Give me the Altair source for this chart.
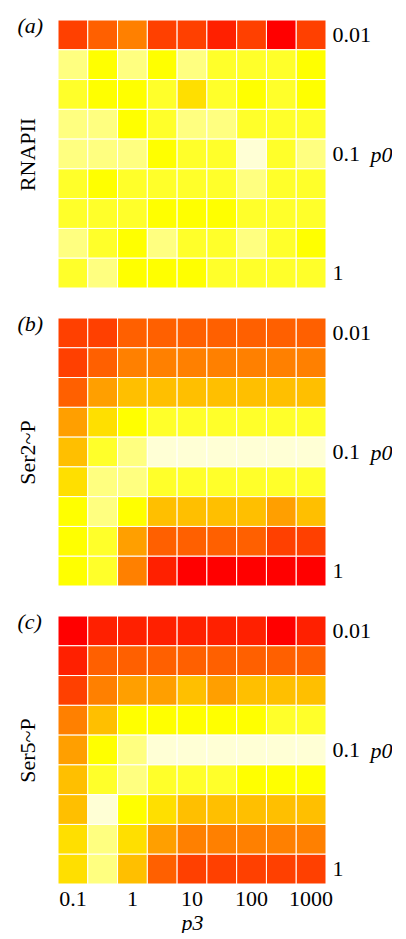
import altair as alt
import pandas as pd

# p3 (columns) and p0 (rows, top to bottom)
p3 = ["0.1", "0.3", "1", "3", "10", "30", "100", "300", "1000"]
p0 = ["0.01", "0.018", "0.032", "0.056", "0.1", "0.18", "0.32", "0.56", "1"]
p3_ticks = ["0.1", "1", "10", "100", "1000"]
p0_ticks = ["0.01", "0.1", "1"]

# heat.colors(12) style palette, level 0 = red ... 11 = near white
heat = ["#FF0000", "#FF2000", "#FF4000", "#FF6000", "#FF8000", "#FF9F00",
        "#FFBF00", "#FFDF00", "#FFFF00", "#FFFF2A", "#FFFF80", "#FFFFD5"]

# colour level of every cell, rows from p0=0.01 down to p0=1
rnapii = [
    [2, 3, 4, 2, 2, 1, 2, 0, 2],
    [10, 8, 10, 8, 10, 9, 9, 9, 8],
    [9, 8, 8, 9, 7, 9, 8, 9, 8],
    [10, 10, 8, 9, 10, 10, 9, 9, 9],
    [10, 10, 10, 8, 9, 9, 11, 9, 10],
    [9, 8, 9, 9, 9, 9, 10, 9, 9],
    [9, 9, 9, 8, 8, 8, 9, 9, 9],
    [10, 9, 8, 10, 9, 9, 10, 9, 8],
    [9, 10, 8, 8, 8, 9, 9, 9, 9],
]
ser2 = [
    [2, 2, 3, 3, 3, 3, 3, 3, 3],
    [2, 3, 4, 4, 4, 4, 4, 4, 4],
    [3, 5, 6, 6, 6, 6, 6, 6, 6],
    [5, 7, 8, 9, 9, 9, 9, 9, 9],
    [6, 9, 10, 11, 11, 11, 11, 11, 11],
    [7, 10, 10, 9, 9, 9, 9, 9, 9],
    [8, 10, 8, 6, 6, 6, 6, 5, 6],
    [8, 9, 5, 3, 3, 3, 3, 2, 2],
    [8, 9, 4, 1, 0, 0, 0, 0, 0],
]
ser5 = [
    [0, 1, 1, 1, 1, 1, 1, 0, 1],
    [1, 3, 3, 3, 3, 3, 3, 3, 3],
    [2, 4, 5, 5, 6, 5, 6, 6, 6],
    [4, 6, 8, 8, 8, 8, 8, 9, 9],
    [5, 8, 10, 11, 11, 11, 11, 11, 11],
    [6, 9, 10, 9, 9, 9, 8, 8, 8],
    [6, 11, 8, 7, 6, 6, 6, 6, 6],
    [7, 10, 7, 5, 4, 4, 4, 4, 4],
    [7, 10, 6, 3, 2, 2, 2, 2, 2],
]

FONT = "Liberation Serif"
SIZE = 268


def panel(grid, letter, name, last):
    rows = []
    for i, r in enumerate(grid):
        for j, v in enumerate(r):
            rows.append({"p3": p3[j], "p0": p0[i], "lvl": v})
    df = pd.DataFrame(rows)

    xscale = alt.Scale(paddingInner=0, paddingOuter=0)
    yscale = alt.Scale(paddingInner=0, paddingOuter=0)
    color = alt.Color("lvl:O", scale=alt.Scale(domain=list(range(12)), range=heat),
                      legend=None)

    # top axis only carries the panel letter, left axis the panel name
    left = alt.Chart(df).mark_rect(stroke="white", strokeWidth=1).encode(
        x=alt.X("p3:O", sort=p3, scale=xscale,
                axis=alt.Axis(orient="top", labels=False, ticks=False,
                              domain=False, title=letter,
                              titleFontStyle="italic", titleAlign="left",
                              titleBaseline="alphabetic", titleAnchor="start",
                              titleX=-41, titleY=12)),
        y=alt.Y("p0:O", sort=p0, scale=yscale,
                axis=alt.Axis(orient="left", labels=False, ticks=False,
                              domain=False, title=name, titlePadding=19)),
        color=color,
    )

    if last:
        xaxis = alt.Axis(orient="bottom", values=p3_ticks, title="p3",
                         titleFontStyle="italic", labelAngle=0, ticks=False,
                         domain=False, labelPadding=4, titlePadding=3)
    else:
        xaxis = None
    right = alt.Chart(df).mark_rect(opacity=0).encode(
        x=alt.X("p3:O", sort=p3, scale=xscale, axis=xaxis),
        y=alt.Y("p0:O", sort=p0, scale=yscale,
                axis=alt.Axis(orient="right", values=p0_ticks, ticks=False,
                              domain=False, labelPadding=6, title="p0",
                              titleFontStyle="italic", titleAngle=0,
                              titleAlign="left", titleBaseline="middle",
                              titleX=44, titleY=SIZE / 2)),
    )
    return alt.layer(left, right).resolve_axis(
        x="independent", y="independent"
    ).properties(width=SIZE, height=SIZE)


chart = alt.vconcat(
    panel(rnapii, "(a)", "RNAPII", False),
    panel(ser2, "(b)", "Ser2~P", False),
    panel(ser5, "(c)", "Ser5~P", True),
    spacing=23,
).properties(
    padding={"top": 6, "left": 8, "right": 0, "bottom": 0}
).configure_axis(
    labelFont=FONT, titleFont=FONT, labelFontSize=22, titleFontSize=22,
    labelColor="black", titleColor="black", titleFontWeight="normal",
    grid=False,
).configure_view(strokeWidth=0)

chart.save("out.html", embed_options={"renderer": "svg", "actions": False})
